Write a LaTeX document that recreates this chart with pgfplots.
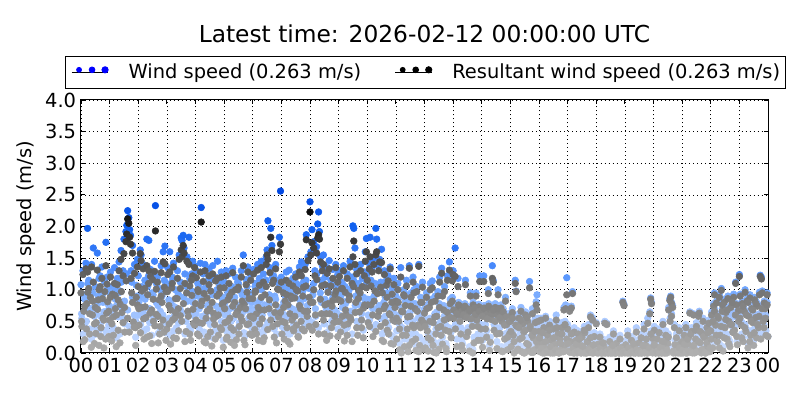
\documentclass[border=0pt]{standalone}
\usepackage{pgfplots}
\pgfplotsset{compat=1.18}
\usepackage{pgfplotstable}
\usepackage{fontspec}
\setmainfont{DejaVu Sans}

% t = hours since 00 UTC, ws = wind speed, rs = resultant wind speed (m/s)
\pgfplotstableread{
t ws rs
0.00 1.08 0.95
0.03 0.55 0.42
0.07 1.30 1.24
0.10 0.92 0.66
0.13 0.45 0.21
0.17 1.42 1.33
0.20 0.84 0.78
0.23 1.97 1.28
0.27 1.15 1.02
0.30 0.38 0.30
0.33 0.96 0.88
0.37 1.40 1.36
0.40 0.71 0.60
0.43 1.66 1.12
0.47 0.29 0.15
0.50 1.05 0.72
0.53 0.62 0.48
0.57 1.58 1.31
0.60 0.90 0.84
0.63 0.35 0.12
0.67 1.22 1.05
0.70 0.58 0.40
0.73 1.36 1.18
0.77 0.80 0.55
0.80 0.27 0.08
0.83 1.12 0.97
0.87 1.75 1.38
0.90 0.66 0.63
0.93 1.02 0.81
0.97 0.44 0.26
1.00 0.74 0.52
1.03 1.28 1.20
1.07 0.33 0.19
1.10 1.05 0.93
1.13 0.62 0.57
1.17 1.35 1.10
1.20 0.85 0.70
1.23 0.24 0.10
1.27 1.18 1.08
1.30 0.57 0.36
1.33 1.44 1.30
1.37 0.98 0.77
1.40 1.62 1.48
1.43 0.70 0.64
1.47 1.30 1.22
1.50 1.80 1.57
1.53 0.46 0.33
1.57 1.92 1.76
1.60 2.02 1.88
1.63 2.25 2.12
1.67 2.14 2.05
1.70 1.95 1.83
1.73 1.86 1.72
1.77 1.12 0.95
1.80 1.70 1.58
1.83 0.82 0.49
1.87 1.40 1.26
1.90 0.52 0.40
1.93 1.07 0.88
1.97 1.48 1.36
2.00 1.22 1.05
2.03 0.60 0.44
2.07 1.63 1.57
2.10 1.55 1.46
2.13 0.88 0.72
2.17 1.40 1.33
2.20 0.35 0.22
2.23 1.15 1.02
2.27 0.72 0.56
2.30 1.80 1.38
2.33 1.05 0.92
2.37 1.78 1.30
2.40 0.48 0.27
2.43 1.32 1.21
2.47 0.95 0.68
2.50 1.25 1.16
2.53 0.57 0.50
2.57 1.45 1.29
2.60 2.33 1.93
2.63 0.80 0.61
2.67 1.20 1.12
2.70 0.31 0.16
2.73 1.02 0.84
2.77 0.66 0.42
2.80 1.38 1.27
2.83 0.90 0.80
2.87 1.60 1.44
2.90 0.45 0.33
2.93 1.69 1.41
2.97 1.10 0.97
3.00 0.52 0.38
3.03 1.35 1.24
3.07 0.84 0.75
3.10 1.60 1.28
3.13 0.28 0.14
3.17 1.12 1.03
3.20 0.75 0.52
3.23 1.42 1.36
3.27 0.60 0.55
3.30 1.00 0.86
3.33 0.40 0.23
3.37 1.30 1.18
3.40 0.93 0.70
3.43 1.55 1.48
3.47 0.68 0.59
3.50 1.82 1.63
3.53 1.78 1.52
3.57 1.86 1.70
3.60 1.66 1.58
3.63 1.25 1.10
3.67 0.50 0.34
3.70 1.52 1.45
3.73 0.82 0.66
3.77 1.83 1.40
3.80 1.18 1.06
3.83 0.36 0.20
3.87 0.98 0.91
3.90 1.45 1.22
3.93 0.63 0.47
3.97 1.38 1.35
4.00 0.90 0.78
4.03 1.30 1.19
4.07 0.45 0.30
4.10 1.08 0.97
4.13 0.70 0.48
4.17 1.42 1.28
4.20 2.30 2.07
4.23 0.88 0.82
4.27 1.25 1.13
4.30 0.33 0.18
4.33 1.40 1.30
4.37 0.62 0.55
4.40 1.02 0.87
4.43 0.51 0.26
4.47 1.33 1.22
4.50 0.78 0.70
4.53 1.15 0.98
4.57 0.25 0.11
4.60 1.38 1.25
4.63 0.92 0.63
4.67 0.56 0.45
4.70 1.20 1.14
4.73 0.74 0.58
4.77 1.45 1.18
4.80 0.38 0.28
4.83 1.06 0.94
4.87 0.64 0.40
4.90 1.28 1.20
4.93 0.85 0.77
4.97 0.20 0.09
5.00 1.12 1.03
5.03 0.60 0.48
5.07 1.30 1.22
5.10 0.42 0.25
5.13 0.95 0.84
5.17 1.25 1.10
5.20 0.70 0.55
5.23 0.30 0.17
5.27 1.05 0.96
5.30 1.34 1.27
5.33 0.55 0.36
5.37 0.88 0.80
5.40 1.20 1.00
5.43 0.38 0.21
5.47 0.75 0.66
5.50 1.10 1.04
5.53 0.48 0.42
5.57 0.98 0.72
5.60 1.30 1.20
5.63 0.62 0.51
5.67 1.55 1.38
5.70 0.85 0.77
5.73 0.27 0.13
5.77 1.16 1.08
5.80 0.68 0.45
5.83 1.36 1.28
5.87 0.92 0.86
5.90 0.43 0.30
5.93 1.24 1.15
5.97 0.80 0.58
6.00 0.95 0.86
6.03 1.32 1.25
6.07 0.50 0.37
6.10 1.10 0.98
6.13 0.72 0.62
6.17 1.40 1.31
6.20 0.34 0.20
6.23 1.18 1.07
6.27 0.85 0.68
6.30 1.45 1.35
6.33 0.60 0.54
6.37 1.25 1.12
6.40 0.40 0.24
6.43 1.05 0.92
6.47 1.52 1.40
6.50 1.63 1.55
6.53 2.09 1.48
6.57 0.78 0.70
6.60 1.35 1.27
6.63 1.97 1.83
6.67 1.70 1.62
6.70 0.55 0.42
6.73 1.22 1.15
6.77 0.90 0.64
6.80 1.40 1.33
6.83 0.30 0.16
6.87 1.15 1.01
6.90 0.68 0.57
6.93 1.83 1.60
6.97 2.56 1.72
7.00 1.20 1.12
7.03 0.62 0.50
7.07 1.05 0.95
7.10 0.38 0.22
7.13 0.90 0.82
7.17 1.28 1.15
7.20 0.55 0.40
7.23 0.82 0.76
7.27 1.31 1.10
7.30 0.30 0.14
7.33 1.00 0.90
7.37 0.70 0.52
7.40 1.18 1.06
7.43 0.45 0.35
7.47 0.95 0.87
7.50 1.25 1.20
7.53 0.60 0.44
7.57 1.08 0.98
7.60 0.35 0.25
7.63 1.36 1.28
7.67 0.78 0.70
7.70 1.44 1.22
7.73 0.52 0.38
7.77 1.12 1.04
7.80 0.86 0.66
7.83 1.40 1.32
7.87 1.87 1.79
7.90 0.65 0.58
7.93 1.52 1.46
7.97 1.02 0.88
8.00 2.39 2.23
8.03 1.60 1.55
8.07 1.95 1.74
8.10 0.92 0.80
8.13 1.76 1.66
8.17 1.30 1.22
8.20 0.58 0.45
8.23 1.68 1.58
8.27 2.04 1.82
8.30 2.23 1.87
8.33 1.92 1.80
8.37 1.52 1.44
8.40 0.80 0.62
8.43 1.38 1.30
8.47 1.55 1.40
8.50 0.46 0.30
8.53 1.20 1.08
8.57 0.70 0.62
8.60 1.35 1.26
8.63 0.98 0.78
8.67 1.46 1.33
8.70 0.40 0.27
8.73 1.15 1.06
8.77 0.85 0.74
8.80 1.32 1.18
8.83 0.55 0.48
8.87 1.05 0.92
8.90 1.40 1.35
8.93 0.64 0.50
8.97 1.24 1.12
9.00 0.95 0.84
9.03 1.30 1.21
9.07 0.48 0.33
9.10 1.12 1.02
9.13 0.72 0.58
9.17 1.38 1.30
9.20 0.35 0.19
9.23 1.05 0.96
9.27 0.82 0.60
9.30 1.25 1.18
9.33 0.58 0.46
9.37 1.00 0.90
9.40 1.45 1.36
9.43 0.66 0.52
9.47 1.20 1.10
9.50 2.01 1.52
9.53 1.97 1.77
9.57 1.66 1.40
9.60 0.90 0.80
9.63 1.32 1.25
9.67 0.42 0.28
9.70 1.10 0.99
9.73 0.76 0.65
9.77 1.40 1.30
9.80 0.52 0.40
9.83 1.18 1.05
9.87 0.88 0.71
9.90 1.28 1.22
9.93 1.60 1.45
9.97 1.81 1.60
10.00 1.25 1.15
10.03 0.60 0.48
10.07 1.42 1.33
10.10 1.83 1.52
10.13 0.85 0.76
10.17 1.35 1.28
10.20 0.40 0.26
10.23 1.50 1.40
10.27 1.10 0.98
10.30 1.97 1.55
10.33 1.80 1.60
10.37 0.70 0.58
10.40 1.38 1.30
10.43 1.48 1.44
10.47 0.55 0.42
10.50 1.64 1.43
10.53 1.05 0.95
10.57 0.32 0.18
10.60 1.30 1.24
10.63 0.88 0.75
10.67 1.15 1.07
10.70 0.48 0.36
10.73 1.22 1.14
10.77 0.72 0.62
10.80 1.36 1.33
10.83 0.28 0.15
10.87 1.02 0.93
10.90 0.65 0.52
10.93 1.18 1.08
10.97 0.82 0.72
11.00 0.90 0.82
11.03 0.35 0.22
11.07 1.10 1.00
11.10 0.58 0.50
11.13 0.15 0.05
11.17 1.35 1.20
11.20 0.72 0.66
11.23 0.40 0.28
11.27 1.00 0.92
11.30 0.22 0.10
11.33 0.82 0.75
11.37 1.15 1.06
11.40 0.50 0.38
11.43 0.10 0.02
11.47 1.38 1.34
11.50 0.65 0.58
11.53 0.95 0.88
11.57 0.30 0.18
11.60 1.20 1.12
11.63 0.45 0.40
11.67 0.78 0.70
11.70 0.12 0.04
11.73 1.05 0.97
11.77 0.55 0.44
11.80 1.40 1.37
11.83 0.25 0.12
11.87 0.88 0.80
11.90 0.62 0.52
11.93 1.12 1.04
11.97 0.18 0.06
12.00 0.70 0.63
12.03 0.20 0.08
12.07 0.95 0.88
12.10 0.42 0.35
12.13 0.12 0.03
12.17 0.80 0.72
12.20 1.10 1.00
12.23 0.30 0.20
12.27 1.14 1.03
12.30 0.55 0.48
12.33 0.08 0.01
12.37 0.90 0.82
12.40 0.38 0.30
12.43 0.65 0.58
12.47 0.97 0.90
12.50 0.16 0.06
12.53 1.20 1.12
12.57 0.50 0.42
12.60 1.34 1.26
12.63 0.25 0.14
12.67 0.75 0.68
12.70 1.05 0.97
12.73 0.45 0.36
12.77 0.10 0.02
12.80 1.22 1.15
12.83 0.62 0.55
12.87 1.44 1.31
12.90 0.85 0.78
12.93 0.33 0.24
12.97 1.21 1.14
13.00 1.30 1.24
13.03 0.60 0.55
13.07 1.66 1.21
13.10 0.72 0.68
13.13 0.22 0.10
13.17 1.18 1.05
13.20 0.65 0.60
13.23 0.78 0.74
13.27 0.40 0.30
13.30 0.70 0.66
13.33 0.15 0.05
13.37 0.76 0.72
13.40 0.62 0.57
13.43 1.15 1.08
13.47 0.35 0.26
13.50 0.74 0.70
13.53 0.68 0.64
13.57 0.10 0.03
13.60 0.95 0.90
13.63 0.72 0.67
13.67 0.50 0.42
13.70 0.80 0.76
13.73 0.25 0.16
13.77 0.66 0.61
13.80 0.95 0.90
13.83 0.58 0.52
13.87 0.30 0.20
13.90 0.77 0.73
13.93 1.22 1.13
13.97 0.45 0.38
14.00 0.70 0.65
14.03 0.20 0.09
14.07 1.22 1.13
14.10 0.62 0.58
14.13 0.75 0.70
14.17 0.35 0.25
14.20 0.68 0.63
14.23 1.00 0.94
14.27 0.12 0.04
14.30 0.73 0.69
14.33 0.58 0.53
14.37 1.38 1.18
14.40 1.15 1.12
14.43 0.45 0.36
14.47 0.78 0.72
14.50 0.66 0.61
14.53 0.18 0.07
14.57 1.00 0.92
14.60 0.70 0.66
14.63 0.40 0.31
14.67 0.76 0.71
14.70 0.55 0.50
14.73 0.08 0.02
14.77 0.64 0.60
14.80 0.30 0.22
14.83 0.88 0.82
14.87 0.50 0.45
14.90 0.15 0.05
14.93 0.62 0.57
14.97 0.38 0.30
15.00 0.55 0.50
15.03 0.20 0.10
15.07 0.70 0.64
15.10 0.35 0.28
15.13 0.05 0.00
15.17 1.15 1.10
15.20 0.98 0.97
15.23 0.48 0.42
15.27 0.15 0.06
15.30 0.62 0.55
15.33 0.30 0.22
15.37 0.72 0.66
15.40 0.10 0.02
15.43 0.52 0.46
15.47 0.40 0.33
15.50 0.06 0.00
15.53 0.65 0.60
15.57 0.25 0.15
15.60 0.58 0.50
15.63 0.12 0.04
15.67 1.13 1.03
15.70 0.45 0.38
15.73 0.08 0.01
15.77 0.70 0.62
15.80 0.32 0.24
15.83 0.15 0.05
15.87 0.55 0.48
15.90 0.81 0.76
15.93 0.92 0.68
15.97 0.20 0.12
16.00 0.40 0.34
16.03 0.10 0.02
16.07 0.55 0.52
16.10 0.25 0.17
16.13 0.05 0.00
16.17 0.45 0.40
16.20 0.18 0.08
16.23 0.58 0.55
16.27 0.08 0.01
16.30 0.35 0.28
16.33 0.12 0.04
16.37 0.50 0.44
16.40 0.04 0.00
16.43 0.28 0.20
16.47 0.15 0.06
16.50 0.42 0.38
16.53 0.06 0.00
16.57 0.22 0.14
16.60 0.60 0.52
16.63 0.10 0.03
16.67 0.38 0.30
16.70 0.05 0.00
16.73 0.30 0.22
16.77 0.14 0.05
16.80 0.48 0.40
16.83 0.08 0.02
16.87 0.72 0.68
16.90 0.20 0.12
16.93 0.76 0.70
16.97 1.19 0.92
17.00 0.45 0.38
17.03 0.10 0.03
17.07 0.70 0.66
17.10 0.25 0.18
17.13 0.74 0.71
17.17 0.97 0.94
17.20 0.05 0.00
17.23 0.40 0.33
17.27 0.15 0.07
17.30 0.28 0.20
17.33 0.04 0.00
17.37 0.35 0.30
17.40 0.10 0.02
17.43 0.20 0.12
17.47 0.06 0.00
17.50 0.30 0.25
17.53 0.12 0.05
17.57 0.05 0.00
17.60 0.38 0.32
17.63 0.14 0.06
17.67 0.03 0.00
17.70 0.24 0.17
17.73 0.45 0.40
17.77 0.08 0.01
17.80 0.60 0.57
17.83 0.18 0.10
17.87 0.56 0.52
17.90 0.05 0.00
17.93 0.32 0.26
17.97 0.10 0.03
18.00 0.48 0.46
18.03 0.05 0.00
18.07 0.20 0.14
18.10 0.08 0.02
18.13 0.30 0.25
18.17 0.03 0.00
18.20 0.12 0.05
18.23 0.04 0.00
18.27 0.18 0.10
18.30 0.50 0.47
18.33 0.06 0.00
18.37 0.47 0.45
18.40 0.10 0.03
18.43 0.02 0.00
18.47 0.25 0.18
18.50 0.05 0.00
18.53 0.15 0.08
18.57 0.03 0.00
18.60 0.35 0.30
18.63 0.08 0.02
18.67 0.04 0.00
18.70 0.22 0.15
18.73 0.06 0.01
18.77 0.12 0.05
18.80 0.02 0.00
18.83 0.28 0.22
18.87 0.05 0.00
18.90 0.16 0.09
18.93 0.82 0.80
18.97 0.77 0.75
19.00 0.05 0.00
19.03 0.20 0.13
19.07 0.08 0.02
19.10 0.35 0.28
19.13 0.03 0.00
19.17 0.14 0.07
19.20 0.05 0.00
19.23 0.26 0.20
19.27 0.10 0.03
19.30 0.04 0.00
19.33 0.18 0.11
19.37 0.06 0.00
19.40 0.40 0.33
19.43 0.12 0.05
19.47 0.02 0.00
19.50 0.22 0.16
19.53 0.07 0.00
19.57 0.30 0.24
19.60 0.04 0.00
19.63 0.15 0.08
19.67 0.45 0.38
19.70 0.06 0.01
19.73 0.20 0.12
19.77 0.03 0.00
19.80 0.55 0.47
19.83 0.10 0.04
19.87 0.65 0.62
19.90 0.87 0.85
19.93 0.80 0.78
19.97 0.30 0.23
20.00 0.08 0.02
20.03 0.42 0.36
20.07 0.04 0.00
20.10 0.18 0.10
20.13 0.28 0.22
20.17 0.05 0.00
20.20 0.38 0.32
20.23 0.12 0.05
20.27 0.03 0.00
20.30 0.25 0.18
20.33 0.50 0.45
20.37 0.06 0.00
20.40 0.16 0.08
20.43 0.35 0.28
20.47 0.04 0.00
20.50 0.22 0.15
20.53 0.72 0.68
20.57 0.86 0.83
20.60 0.90 0.88
20.63 0.80 0.78
20.67 0.75 0.72
20.70 0.10 0.03
20.73 0.45 0.40
20.77 0.05 0.00
20.80 0.30 0.24
20.83 0.08 0.01
20.87 0.20 0.13
20.90 0.40 0.35
20.93 0.03 0.00
20.97 0.14 0.06
21.00 0.25 0.18
21.03 0.06 0.00
21.07 0.35 0.28
21.10 0.12 0.05
21.13 0.45 0.40
21.17 0.04 0.00
21.20 0.20 0.14
21.23 0.30 0.25
21.27 0.65 0.63
21.30 0.08 0.01
21.33 0.40 0.34
21.37 0.15 0.08
21.40 0.62 0.60
21.43 0.05 0.00
21.47 0.28 0.22
21.50 0.48 0.42
21.53 0.10 0.03
21.57 0.60 0.58
21.60 0.66 0.63
21.63 0.22 0.16
21.67 0.04 0.00
21.70 0.38 0.31
21.73 0.55 0.50
21.77 0.12 0.06
21.80 0.30 0.24
21.83 0.06 0.00
21.87 0.45 0.40
21.90 0.18 0.11
21.93 0.52 0.47
21.97 0.08 0.02
22.00 0.40 0.35
22.03 0.65 0.60
22.07 0.15 0.08
22.10 0.78 0.74
22.13 0.95 0.92
22.17 0.50 0.44
22.20 0.82 0.79
22.23 0.25 0.18
22.27 0.60 0.55
22.30 0.92 0.88
22.33 0.35 0.28
22.37 1.02 0.99
22.40 0.70 0.66
22.43 0.10 0.03
22.47 0.85 0.80
22.50 0.45 0.40
22.53 0.68 0.64
22.57 0.30 0.22
22.60 0.90 0.86
22.63 0.55 0.50
22.67 0.18 0.10
22.70 0.75 0.72
22.73 0.62 0.45
22.77 0.40 0.33
22.80 0.93 0.88
22.83 0.58 0.36
22.87 1.12 1.10
22.90 0.78 0.76
22.93 0.20 0.13
22.97 0.70 0.67
23.00 1.24 1.21
23.03 0.93 0.90
23.07 0.50 0.44
23.10 0.82 0.78
23.13 0.25 0.18
23.17 0.70 0.66
23.20 1.00 0.96
23.23 0.40 0.34
23.27 0.86 0.82
23.30 0.15 0.08
23.33 0.62 0.58
23.37 0.92 0.87
23.40 0.35 0.28
23.43 0.75 0.70
23.47 0.52 0.48
23.50 0.20 0.12
23.53 0.88 0.84
23.57 0.60 0.56
23.60 0.30 0.24
23.63 0.78 0.74
23.67 0.45 0.40
23.70 0.96 0.92
23.73 1.23 1.21
23.77 1.20 1.17
23.80 0.98 0.95
23.83 0.55 0.50
23.87 0.82 0.79
23.90 0.73 0.70
23.93 0.35 0.28
23.97 0.95 0.92
24.00 0.26 0.26
0.02 0.62 0.50
0.08 0.30 0.18
0.13 0.85 0.74
0.19 0.50 0.38
0.24 1.10 0.96
0.30 0.70 0.62
0.36 0.22 0.09
0.41 0.95 0.82
0.47 0.58 0.46
0.52 0.40 0.31
0.58 0.78 0.69
0.63 1.18 1.00
0.69 0.48 0.26
0.75 0.92 0.86
0.80 0.65 0.52
0.86 0.36 0.22
0.91 1.20 1.09
0.97 0.75 0.66
1.02 0.95 0.88
1.08 0.60 0.46
1.13 0.40 0.28
1.19 1.02 0.91
1.24 0.75 0.60
1.30 0.95 0.84
1.36 0.30 0.16
1.41 1.12 0.97
1.47 0.55 0.48
1.52 0.82 0.72
1.58 1.25 1.14
1.63 0.68 0.55
1.69 0.42 0.33
1.75 1.30 1.18
1.80 0.88 0.80
1.86 0.60 0.41
1.91 0.25 0.12
1.97 0.90 0.76
2.02 0.80 0.70
2.08 0.45 0.32
2.13 1.05 0.98
2.19 0.62 0.54
2.24 0.85 0.73
2.30 0.38 0.25
2.36 1.22 1.10
2.41 0.70 0.63
2.47 0.28 0.15
2.52 0.92 0.85
2.58 0.55 0.43
2.63 1.10 1.01
2.69 0.75 0.58
2.75 0.40 0.30
2.80 0.98 0.90
2.86 0.60 0.52
2.91 1.15 1.04
2.97 0.32 0.20
3.02 1.05 0.97
3.08 0.55 0.46
3.13 0.80 0.68
3.19 1.20 1.10
3.24 0.35 0.24
3.30 0.72 0.64
3.36 0.98 0.86
3.41 0.48 0.35
3.47 1.12 1.02
3.52 0.62 0.50
3.58 0.88 0.78
3.63 0.30 0.18
3.69 1.05 0.95
3.75 0.66 0.58
3.80 0.42 0.30
3.86 1.25 1.15
3.91 0.80 0.69
3.97 0.58 0.44
4.02 0.62 0.52
4.08 1.10 1.00
4.13 0.38 0.27
4.19 0.85 0.75
4.24 0.58 0.47
4.30 1.02 0.94
4.36 0.28 0.16
4.41 0.75 0.66
4.47 1.18 1.08
4.52 0.45 0.33
4.58 0.92 0.80
4.63 0.60 0.54
4.69 0.35 0.22
4.75 1.00 0.90
4.80 0.70 0.60
4.86 1.15 1.03
4.91 0.50 0.37
4.97 0.88 0.79
5.02 0.78 0.70
5.08 0.35 0.22
5.13 0.62 0.50
5.19 1.00 0.90
5.24 0.50 0.40
5.30 0.85 0.74
5.36 0.25 0.12
5.41 0.70 0.61
5.47 1.12 1.00
5.52 0.42 0.30
5.58 0.65 0.57
5.63 0.92 0.82
5.69 0.32 0.20
5.75 0.80 0.70
5.80 1.05 0.96
5.86 0.55 0.46
5.91 0.70 0.58
5.97 0.40 0.28
6.02 0.65 0.55
6.08 1.05 0.96
6.13 0.42 0.30
6.19 0.80 0.72
6.24 0.55 0.46
6.30 1.00 0.88
6.36 0.30 0.18
6.41 0.76 0.68
6.47 1.15 1.05
6.52 0.48 0.37
6.58 0.92 0.84
6.63 0.62 0.52
6.69 1.20 1.10
6.75 0.38 0.25
6.80 0.85 0.76
6.86 0.58 0.46
6.91 1.10 1.00
6.97 0.72 0.64
7.02 0.42 0.30
7.08 0.80 0.72
7.13 0.60 0.48
7.19 1.02 0.92
7.24 0.30 0.18
7.30 0.72 0.62
7.36 0.95 0.86
7.41 0.50 0.38
7.47 0.68 0.58
7.52 1.10 1.00
7.58 0.38 0.26
7.63 0.85 0.75
7.69 0.62 0.50
7.75 0.98 0.90
7.80 0.45 0.35
7.86 1.15 1.06
7.91 0.75 0.66
7.97 0.52 0.42
8.02 0.88 0.80
8.08 0.48 0.36
8.13 1.10 1.00
8.19 0.70 0.60
8.24 1.25 1.16
8.30 0.40 0.30
8.36 0.95 0.85
8.41 1.15 1.06
8.47 0.62 0.52
8.52 0.85 0.76
8.58 0.32 0.20
8.63 1.05 0.96
8.69 0.72 0.62
8.75 0.50 0.40
8.80 0.92 0.83
8.86 0.68 0.58
8.91 1.08 0.98
8.97 0.38 0.26
9.02 0.60 0.50
9.08 0.90 0.82
9.13 1.10 1.02
9.19 0.55 0.44
9.24 0.78 0.68
9.30 0.40 0.28
9.36 0.92 0.84
9.41 0.65 0.56
9.47 0.30 0.18
9.52 1.15 1.05
9.58 0.75 0.64
9.63 0.50 0.40
9.69 0.95 0.86
9.75 1.05 0.95
9.80 0.62 0.52
9.86 0.36 0.24
9.91 0.85 0.76
9.97 1.12 1.03
10.02 0.85 0.76
10.08 0.52 0.42
10.13 1.15 1.06
10.19 0.70 0.60
10.24 0.90 0.82
10.30 0.45 0.34
10.36 1.02 0.94
10.41 0.75 0.66
10.47 1.12 1.04
10.52 0.30 0.20
10.58 0.80 0.70
10.63 0.58 0.48
10.69 0.95 0.88
10.75 0.40 0.30
10.80 0.68 0.60
10.86 0.88 0.80
10.91 0.25 0.14
10.97 0.60 0.50
11.02 0.60 0.55
11.08 0.85 0.80
11.13 0.45 0.38
11.19 0.05 0.00
11.24 0.70 0.65
11.30 0.95 0.90
11.36 0.35 0.28
11.41 0.62 0.57
11.47 0.20 0.12
11.52 0.80 0.74
11.58 0.50 0.44
11.63 1.00 0.95
11.69 0.30 0.22
11.75 0.72 0.66
11.80 0.08 0.02
11.86 0.45 0.40
11.91 0.85 0.80
11.97 0.55 0.48
12.02 0.48 0.42
12.08 0.75 0.70
12.13 0.30 0.24
12.19 0.55 0.50
12.24 0.85 0.80
12.30 0.20 0.12
12.36 0.62 0.57
12.41 0.05 0.00
12.47 0.45 0.40
12.52 0.78 0.72
12.58 0.35 0.28
12.63 0.95 0.90
12.69 0.58 0.52
12.75 0.15 0.07
12.80 0.70 0.64
12.86 0.40 0.34
12.91 0.62 0.56
12.97 0.88 0.82
13.02 0.72 0.68
13.08 0.45 0.38
13.13 0.66 0.62
13.19 0.80 0.76
13.24 0.55 0.50
13.30 0.20 0.12
13.36 0.64 0.60
13.41 0.78 0.74
13.47 0.60 0.56
13.52 0.40 0.33
13.58 0.72 0.68
13.63 0.58 0.54
13.69 0.06 0.00
13.75 0.75 0.71
13.80 0.65 0.61
13.86 0.48 0.42
13.91 0.70 0.66
13.97 0.28 0.20
14.02 0.62 0.58
14.08 0.75 0.71
14.13 0.45 0.38
14.19 0.58 0.54
14.24 0.78 0.74
14.30 0.25 0.17
14.36 0.66 0.62
14.41 0.72 0.68
14.47 0.55 0.50
14.52 0.38 0.30
14.58 0.74 0.70
14.63 0.60 0.56
14.69 0.10 0.03
14.75 0.70 0.65
14.80 0.50 0.44
14.86 0.62 0.57
14.91 0.32 0.25
14.97 0.55 0.50
15.02 0.40 0.34
15.08 0.60 0.55
15.13 0.25 0.18
15.19 0.50 0.44
15.24 0.12 0.04
15.30 0.45 0.40
15.36 0.58 0.52
15.41 0.30 0.24
15.47 0.05 0.00
15.52 0.42 0.36
15.58 0.62 0.56
15.63 0.20 0.13
15.69 0.48 0.42
15.75 0.35 0.28
15.80 0.08 0.01
15.86 0.40 0.34
15.91 0.25 0.18
15.97 0.55 0.50
16.02 0.30 0.24
16.08 0.15 0.07
16.13 0.38 0.32
16.19 0.05 0.00
16.24 0.25 0.18
16.30 0.10 0.03
16.36 0.42 0.36
16.41 0.18 0.10
16.47 0.03 0.00
16.52 0.30 0.24
16.58 0.12 0.05
16.63 0.45 0.40
16.69 0.06 0.00
16.75 0.22 0.15
16.80 0.35 0.30
16.86 0.08 0.02
16.91 0.50 0.45
16.97 0.28 0.22
17.02 0.22 0.15
17.08 0.08 0.01
17.13 0.35 0.30
17.19 0.15 0.08
17.24 0.04 0.00
17.30 0.20 0.14
17.36 0.10 0.03
17.41 0.28 0.22
17.47 0.03 0.00
17.52 0.18 0.11
17.58 0.42 0.36
17.63 0.06 0.00
17.69 0.25 0.18
17.75 0.12 0.05
17.80 0.30 0.24
17.86 0.04 0.00
17.91 0.20 0.13
17.97 0.08 0.02
18.02 0.10 0.03
18.08 0.03 0.00
18.13 0.15 0.08
18.19 0.05 0.00
18.24 0.22 0.16
18.30 0.02 0.00
18.36 0.08 0.02
18.41 0.04 0.00
18.47 0.12 0.05
18.52 0.03 0.00
18.58 0.18 0.12
18.63 0.05 0.00
18.69 0.02 0.00
18.75 0.10 0.04
18.80 0.04 0.00
18.86 0.14 0.07
18.91 0.03 0.00
18.97 0.08 0.02
19.02 0.10 0.03
19.08 0.03 0.00
19.13 0.15 0.08
19.19 0.05 0.00
19.24 0.08 0.02
19.30 0.22 0.15
19.36 0.03 0.00
19.41 0.12 0.05
19.47 0.05 0.00
19.52 0.10 0.03
19.58 0.02 0.00
19.63 0.18 0.12
19.69 0.04 0.00
19.75 0.28 0.22
19.80 0.06 0.00
19.86 0.15 0.08
19.91 0.35 0.30
19.97 0.05 0.00
20.02 0.20 0.13
20.08 0.05 0.00
20.13 0.10 0.03
20.19 0.03 0.00
20.24 0.16 0.09
20.30 0.06 0.00
20.36 0.25 0.18
20.41 0.04 0.00
20.47 0.12 0.05
20.52 0.30 0.25
20.58 0.55 0.50
20.63 0.62 0.58
20.69 0.05 0.00
20.75 0.20 0.13
20.80 0.08 0.02
20.86 0.03 0.00
20.91 0.15 0.08
20.97 0.05 0.00
21.02 0.12 0.05
21.08 0.20 0.14
21.13 0.05 0.00
21.19 0.28 0.22
21.24 0.10 0.03
21.30 0.35 0.30
21.36 0.04 0.00
21.41 0.18 0.12
21.47 0.42 0.36
21.52 0.08 0.02
21.58 0.25 0.18
21.63 0.40 0.34
21.69 0.12 0.05
21.75 0.32 0.26
21.80 0.05 0.00
21.86 0.22 0.16
21.91 0.38 0.32
21.97 0.15 0.08
22.02 0.28 0.22
22.08 0.55 0.50
22.13 0.70 0.66
22.19 0.35 0.28
22.24 0.62 0.58
22.30 0.15 0.08
22.36 0.48 0.42
22.41 0.80 0.76
22.47 0.30 0.24
22.52 0.58 0.53
22.58 0.72 0.68
22.63 0.22 0.15
22.69 0.50 0.45
22.75 0.85 0.80
22.80 0.38 0.32
22.86 0.65 0.60
22.91 0.45 0.26
22.97 0.55 0.50
23.02 0.60 0.55
23.08 0.30 0.24
23.13 0.78 0.74
23.19 0.45 0.40
23.24 0.65 0.60
23.30 0.85 0.80
23.36 0.25 0.18
23.41 0.55 0.50
23.47 0.72 0.68
23.52 0.38 0.32
23.58 0.82 0.78
23.63 0.50 0.45
23.69 0.62 0.58
23.75 0.30 0.22
23.80 0.75 0.70
23.86 0.45 0.40
23.91 0.60 0.55
23.97 0.80 0.76
}\windtab

\pgfplotsset{
  colormap={wsblue}{rgb255(0)=(205,222,255) rgb255(5)=(172,202,255) rgb255(10)=(112,166,255) rgb255(15)=(60,128,250) rgb255(20)=(16,96,238) rgb255(26)=(0,70,225)},
  colormap={rsgray}{rgb255(0)=(176,176,176) rgb255(5)=(146,146,146) rgb255(10)=(114,114,114) rgb255(15)=(78,78,78) rgb255(20)=(35,35,35) rgb255(23)=(5,5,5) rgb255(26)=(0,0,0)},
}

\newcommand{\fs}{\fontsize{14}{16.8}\selectfont}

\begin{document}
\begin{tikzpicture}
\useasboundingbox (0,0) rectangle (576pt,288pt);
\begin{axis}[
  at={(58.32pt,33.84pt)}, anchor=south west,
  scale only axis, width=494.64pt, height=182.16pt,
  xmin=0, xmax=24, ymin=0, ymax=4,
  xtick={0,1,...,24},
  xticklabels={00,01,02,03,04,05,06,07,08,09,10,11,12,13,14,15,16,17,18,19,20,21,22,23,00},
  ytick={0,0.5,...,4},
  yticklabel style={/pgf/number format/.cd,fixed,fixed zerofill,precision=1},
  /pgf/number format/assume math mode=true,
  tick label style={font=\fs, black},
  ylabel={Wind speed (m/s)}, label style={font=\fs},
  grid=major, major grid style={black, line width=0.5pt, dash pattern=on 0.7pt off 2.2pt},
  axis line style={black, line width=0.72pt},
  tick align=inside, major tick length=2.9pt, tick style={black, line width=0.6pt},
  axis on top,
  point meta min=0, point meta max=2.6,
  legend columns=2,
  legend style={at={(-0.0233,1.1740)}, anchor=north west, draw=black, line width=0.72pt,
    inner xsep=4pt, inner ysep=5.3pt, font=\fs,
    nodes={inner sep=0pt, text depth=0.2em},
    /tikz/every odd column/.append style={column sep=14.4pt},
    /tikz/every even column/.append style={column sep=24.1pt}},
  legend cell align=left,
]
\addplot[scatter, only marks, mark=*, mark size=2.4pt, colormap name=wsblue, point meta=y,
  scatter/use mapped color={draw=mapped color, fill=mapped color},
  legend image code/.code={
    \path (-5.4pt,0pt) -- (20.94pt,0pt);
    \fill[blue] (0pt,2pt) circle[radius=1.7pt];
    \fill[blue] (9.36pt,2pt) circle[radius=2pt];
    \fill[blue] (18.72pt,2pt) circle[radius=2.2pt];
  }] table[x=t, y=ws] {\windtab};
\addlegendentry{Wind speed (0.263 m/s)}
\addplot[scatter, only marks, mark=*, mark size=2.4pt, colormap name=rsgray, point meta=y,
  scatter/use mapped color={draw=mapped color, fill=mapped color},
  legend image code/.code={
    \path (-5.4pt,0pt) -- (20.94pt,0pt);
    \fill[black] (0pt,2pt) circle[radius=1.7pt];
    \fill[black] (9.36pt,2pt) circle[radius=2pt];
    \fill[black] (18.72pt,2pt) circle[radius=2.2pt];
  }] table[x=t, y=rs] {\windtab};
\addlegendentry{Resultant wind speed (0.263 m/s)}
\end{axis}
\node[font=\fontsize{16.8}{20}\selectfont] at (305.64pt,263.5pt) {Latest time: 2026-02-12 00:00:00 UTC};
\end{tikzpicture}
\end{document}
